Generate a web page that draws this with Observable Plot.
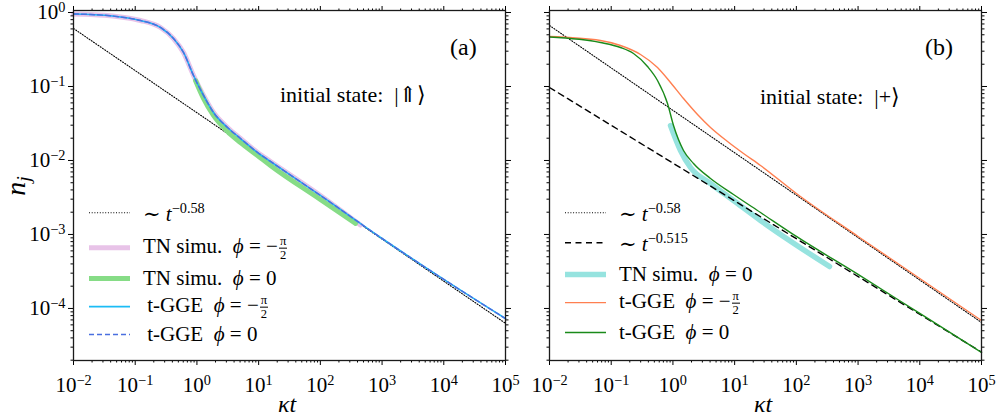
<!DOCTYPE html>
<html><head><meta charset="utf-8">
<script src="https://cdn.jsdelivr.net/npm/d3@7"></script>
<script src="https://cdn.jsdelivr.net/npm/@observablehq/plot@0.6"></script>
<style>
body{margin:0;background:#fff;}
#wrap{position:relative;width:996px;height:418px;font-family:"Liberation Serif","DejaVu Serif",serif;color:#000;overflow:hidden;}
#wrap svg.pl{position:absolute;top:0;overflow:visible;}
.t{position:absolute;white-space:nowrap;line-height:1;}
.leg{position:absolute;white-space:nowrap;line-height:1;font-size:21px;display:flex;align-items:center;transform:translateY(-50%);}
.leg svg{display:block;}
.sup{font-size:0.68em;vertical-align:0.6em;}
.fr{display:inline-flex;flex-direction:column;align-items:center;vertical-align:middle;font-size:0.6em;line-height:1.02;margin-left:1px;}
.fr .n{border-bottom:0.8px solid #000;padding:0 1px;}
i{font-style:italic;}
</style></head>
<body><div id="wrap"></div>
<script>
// ---------- axis ticks ----------
const xTickExponents = [-2, -1, 0, 1, 2, 3, 4, 5];
const yTickExponents = [-4, -3, -2, -1, 0];
const minorMultipliers = [2, 3, 4, 5, 6, 7, 8, 9];
const xDomain = [1e-2, 1e5];
const yDomain = [1.98e-5, 1.064];

// ---------- panel (a): initial state |⇑> ----------
const aPow058X = [0.01, 1e5];
const aPow058Y = [0.608, 6.3e-5];
const aTNm2X = [0.01, 0.01886, 0.0318, 0.0578, 0.1218, 0.257, 0.417, 0.606, 0.88, 1.278, 1.856, 3.13, 5.08, 9.59, 15.57, 100, 447];
const aTNm2Y = [0.954, 0.94, 0.917, 0.869, 0.78, 0.627, 0.445, 0.288, 0.1408, 0.0756, 0.0445, 0.0279, 0.0198, 0.01282, 0.00969, 0.00337, 0.00134];
const aTN0X = [0.948, 1.278, 1.856, 3.13, 5.08, 9.59, 15.57, 100, 371];
const aTN0Y = [0.1205, 0.0689, 0.0406, 0.0247, 0.0175, 0.0117, 0.00856, 0.00297, 0.00141];
const aGGEm2X = [0.01, 0.01886, 0.0318, 0.0578, 0.1218, 0.257, 0.417, 0.606, 0.88, 1.278, 1.856, 3.13, 5.08, 9.59, 15.57, 100, 1000, 1e4, 1e5];
const aGGEm2Y = [0.954, 0.94, 0.917, 0.869, 0.78, 0.627, 0.445, 0.288, 0.1408, 0.0756, 0.0445, 0.0279, 0.0198, 0.01282, 0.00969, 0.00337, 8.83e-4, 2.47e-4, 7.3e-5];
const aGGE0X = [0.01, 0.01886, 0.0318, 0.0578, 0.1218, 0.257, 0.417, 0.606, 0.88, 1.278, 1.856, 3.13, 5.08, 9.59, 15.57, 100, 1000, 1e4, 1e5];
const aGGE0Y = [0.954, 0.94, 0.917, 0.869, 0.78, 0.627, 0.445, 0.288, 0.1408, 0.0756, 0.0445, 0.0279, 0.0198, 0.01282, 0.00969, 0.00337, 8.83e-4, 2.47e-4, 7.3e-5];

// ---------- panel (b): initial state |+> ----------
const bPow058X = [0.01, 1e5];
const bPow058Y = [0.667, 6.47e-5];
const bPow0515X = [0.01, 1e5];
const bPow0515Y = [0.0969, 2.57e-5];
const bTN0X = [0.9135, 1.327, 1.927, 4.064, 9.59, 26.26, 61.9, 344.7];
const bTN0Y = [0.0297, 0.01365, 0.00804, 0.00489, 0.00288, 0.001546, 9.4e-4, 3.69e-4];
const bGGEm2X = [0.01, 0.067, 0.1414, 0.2983, 0.5625, 0.9135, 1.484, 2.502, 4.064, 7.664, 13.93, 26.26, 100, 1000, 1e4, 1e5];
const bGGEm2Y = [0.4738, 0.4183, 0.3581, 0.2707, 0.1806, 0.1132, 0.0688, 0.04183, 0.02792, 0.01806, 0.01243, 0.00856, 0.00358, 9.4e-4, 2.54e-4, 6.88e-5];
const bGGE0X = [0.01, 0.067, 0.1414, 0.2297, 0.3873, 0.5625, 0.817, 1.022, 1.484, 2.156, 4.064, 9.59, 26.26, 100, 1000, 1e4, 1e5];
const bGGE0Y = [0.4665, 0.3932, 0.3365, 0.2792, 0.1864, 0.1205, 0.0589, 0.0297, 0.01365, 0.0091, 0.00571, 0.00347, 0.00198, 9.4e-4, 2.88e-4, 8.56e-5, 2.54e-5];

const pts = (xs, ys) => xs.map((x, i) => ({x, y: ys[i]}));
const xMajor = xTickExponents.map(e => 10 ** e);
const yMajor = yTickExponents.map(e => 10 ** e);
const xMinor = xTickExponents.slice(0, -1).flatMap(e => minorMultipliers.map(k => k * 10 ** e));
const yMinor = [-5, ...yTickExponents].flatMap(e => minorMultipliers.map(k => k * 10 ** e)).filter(v => v >= yDomain[0] && v <= yDomain[1]);
const expFmt = d => `10^${Math.round(Math.log10(d))}`;
const none = () => "";

function frameAxes(showYLabels) {
  return [
    Plot.axisX(xMinor, {anchor: "bottom", tickSize: 2.5, tickFormat: none, label: null}),
    Plot.axisX(xMinor, {anchor: "top", tickSize: 2.5, tickFormat: none, label: null}),
    Plot.axisX(xMajor, {anchor: "top", tickSize: 5, tickFormat: none, label: null}),
    Plot.axisX(xMajor, {anchor: "bottom", tickSize: 5, tickPadding: 12, tickFormat: expFmt, label: null}),
    Plot.axisY(yMinor, {anchor: "left", tickSize: 2.5, tickFormat: none, label: null}),
    Plot.axisY(yMinor, {anchor: "right", tickSize: 2.5, tickFormat: none, label: null}),
    Plot.axisY(yMajor, {anchor: "right", tickSize: 5, tickFormat: none, label: null}),
    Plot.axisY(yMajor, {anchor: "left", tickSize: 5, tickPadding: 3, tickFormat: showYLabels ? expFmt : none, label: null}),
    Plot.frame({stroke: "#1a1a1a", strokeWidth: 1.3})
  ];
}

const common = {
  height: 418, marginTop: 10, marginBottom: 58,
  x: {type: "log", domain: xDomain},
  y: {type: "log", domain: yDomain},
  style: {fontFamily: "'Liberation Serif','DejaVu Serif',serif", fontSize: "21px", color: "#000", background: "transparent", overflow: "visible"}
};
const cv = "monotone-x";

const plotA = Plot.plot({
  ...common, width: 520, marginLeft: 73, marginRight: 15,
  marks: [
    Plot.line(pts(aPow058X, aPow058Y), {x: "x", y: "y", stroke: "#000", strokeWidth: 1.1, strokeDasharray: "1,1.7"}),
    Plot.line(pts(aTNm2X, aTNm2Y), {x: "x", y: "y", stroke: "#e8c3e8", strokeWidth: 5, curve: cv}),
    Plot.line(pts(aTN0X, aTN0Y), {x: "x", y: "y", stroke: "#86dc86", strokeWidth: 5, curve: cv}),
    Plot.line(pts(aGGEm2X, aGGEm2Y), {x: "x", y: "y", stroke: "#1cbcf5", strokeWidth: 1.6, curve: cv}),
    Plot.line(pts(aGGE0X, aGGE0Y), {x: "x", y: "y", stroke: "#4a6fe0", strokeWidth: 1.5, strokeDasharray: "5,3", curve: cv}),
    ...frameAxes(true)
  ]
});

const plotB = Plot.plot({
  ...common, width: 476, marginLeft: 29, marginRight: 15,
  marks: [
    Plot.line(pts(bTN0X, bTN0Y), {x: "x", y: "y", stroke: "#96e3df", strokeWidth: 5.5, curve: cv}),
    Plot.line(pts(bPow058X, bPow058Y), {x: "x", y: "y", stroke: "#000", strokeWidth: 1.1, strokeDasharray: "1,1.7"}),
    Plot.line(pts(bPow0515X, bPow0515Y), {x: "x", y: "y", stroke: "#000", strokeWidth: 1.4, strokeDasharray: "6,4.5"}),
    Plot.line(pts(bGGEm2X, bGGEm2Y), {x: "x", y: "y", stroke: "#ff7f50", strokeWidth: 1.4, curve: cv}),
    Plot.line(pts(bGGE0X, bGGE0Y), {x: "x", y: "y", stroke: "#1a8a1a", strokeWidth: 1.4, curve: cv}),
    ...frameAxes(false)
  ]
});

function supTicks(svg) {
  svg.querySelectorAll("text").forEach(t => {
    const m = /^10\^(-?\d+)$/.exec(t.textContent);
    if (!m) return;
    t.textContent = "";
    const ns = "http://www.w3.org/2000/svg";
    const a = document.createElementNS(ns, "tspan"); a.textContent = "10";
    const b = document.createElementNS(ns, "tspan");
    b.textContent = m[1].replace("-", "\u2212");
    b.setAttribute("font-size", "0.68em"); b.setAttribute("dy", "-0.5em");
    t.append(a, b);
  });
}
const wrap = document.getElementById("wrap");
[[plotA, 0], [plotB, 520]].forEach(([p, left]) => {
  p.classList.add("pl"); p.style.left = left + "px"; supTicks(p); wrap.appendChild(p);
});

// ---------- annotations & legends (HTML) ----------
function addText(html, left, top, size, extra = "") {
  const d = document.createElement("div"); d.className = "t";
  d.style.cssText = `left:${left}px;top:${top}px;font-size:${size}px;${extra}`;
  d.innerHTML = html; wrap.appendChild(d); return d;
}
addText("(a)", 450, 35, 24);
addText("(b)", 925, 35, 24);
addText("initial state: &nbsp;|⇑⟩", 280, 84, 22);
addText("initial state: &nbsp;|+⟩", 760, 86, 22);
addText("<i>n<sub style='font-size:0.7em;vertical-align:-0.25em'>j</sub></i>", 8, 186, 28, "transform:translateY(-50%) rotate(-90deg);transform-origin:center;");
addText("<i>κt</i>", 278, 392, 24);
addText("<i>κt</i>", 754, 392, 24);

const frac = `<span class="fr"><span class="n">π</span><span>2</span></span>`;
const legendA = [
  {y: 213, stroke: "#000", w: 1.1, dash: "1,1.7", html: `∼ <i>t</i><span class="sup">−0.58</span>`},
  {y: 248, stroke: "#e8c3e8", w: 5, dash: null, html: `TN simu. &nbsp;<i>ϕ</i> = −${frac}`},
  {y: 278, stroke: "#86dc86", w: 5, dash: null, html: `TN simu. &nbsp;<i>ϕ</i> = 0`},
  {y: 307, stroke: "#1cbcf5", w: 1.6, dash: null, html: `&thinsp;t-GGE &nbsp;<i>ϕ</i> = −${frac}`},
  {y: 334, stroke: "#4a6fe0", w: 1.5, dash: "5,3", html: `&thinsp;t-GGE &nbsp;<i>ϕ</i> = 0`}
];
const legendB = [
  {y: 213, stroke: "#000", w: 1.1, dash: "1,1.7", html: `∼ <i>t</i><span class="sup">−0.58</span>`},
  {y: 243, stroke: "#000", w: 1.4, dash: "6,4.5", html: `∼ <i>t</i><span class="sup">−0.515</span>`},
  {y: 274, stroke: "#96e3df", w: 5.5, dash: null, html: `TN simu. &nbsp;<i>ϕ</i> = 0`},
  {y: 303, stroke: "#ff7f50", w: 1.4, dash: null, html: `t-GGE &nbsp;<i>ϕ</i> = −${frac}`},
  {y: 332, stroke: "#1a8a1a", w: 1.4, dash: null, html: `t-GGE &nbsp;<i>ϕ</i> = 0`}
];
function addLegend(items, left) {
  items.forEach(it => {
    const d = document.createElement("div"); d.className = "leg";
    d.style.left = left + "px"; d.style.top = it.y + "px";
    d.innerHTML = `<svg width="54" height="10"><line x1="0" x2="41" y1="5" y2="5" stroke="${it.stroke}" stroke-width="${it.w}" ${it.dash ? `stroke-dasharray="${it.dash}"` : ""}/></svg><span>${it.html}</span>`;
    wrap.appendChild(d);
  });
}
addLegend(legendA, 89);
addLegend(legendB, 565);
</script>
</body></html>
